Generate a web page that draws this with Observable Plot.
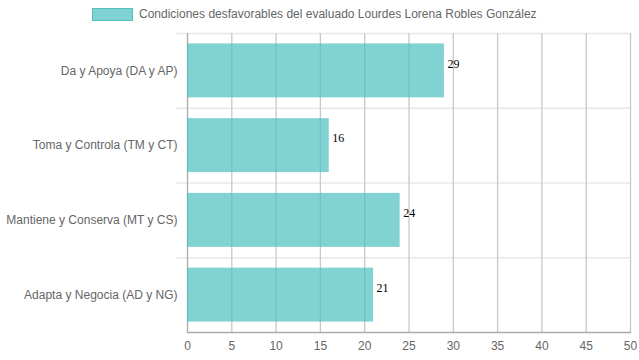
<!DOCTYPE html>
<html>
<head>
<meta charset="utf-8">
<script src="https://cdn.jsdelivr.net/npm/d3@7"></script>
<script src="https://cdn.jsdelivr.net/npm/@observablehq/plot@0.6"></script>
<style>
  body { margin: 0; background: #fff; }
  #wrap { position: relative; width: 639px; height: 360px; }
  #legend { position: absolute; top: 7px; left: 92px; display: flex; align-items: center;
    font: 12px "Liberation Sans", Arial, sans-serif; color: #666; white-space: nowrap; }
  #legend .box { width: 39px; height: 11px; background: rgba(75,192,192,0.7); border: 1px solid rgba(75,192,192,0.9); margin-right: 6px; }
  svg { display: block; }
</style>
</head>
<body>
<div id="wrap">
  <div id="legend"><span class="box"></span><span id="legendText"></span></div>
</div>
<script>
const seriesName = "Condiciones desfavorables del evaluado Lourdes Lorena Robles González";
const categories = ["Da y Apoya (DA y AP)", "Toma y Controla (TM y CT)", "Mantiene y Conserva (MT y CS)", "Adapta y Negocia (AD y NG)"];
const values = [29, 16, 24, 21];
const xTicks = [0, 5, 10, 15, 20, 25, 30, 35, 40, 45, 50];

document.getElementById("legendText").textContent = seriesName;

const data = categories.map((c, i) => ({category: c, value: values[i]}));
const step = (360 - 33 - 28) / categories.length;

const chart = Plot.plot({
  width: 639,
  height: 360,
  marginTop: 33,
  marginBottom: 28,
  marginLeft: 187,
  marginRight: 9,
  style: {fontFamily: "'Liberation Sans', Arial, sans-serif", fontSize: "12px", color: "#666", background: "white"},
  x: {domain: [0, 50], ticks: xTicks, label: null},
  y: {domain: categories, padding: 0, round: false, label: null},
  marks: [
    Plot.ruleY(categories, {y: d => d, dy: -step / 2, x1: -1.25, x2: 50, stroke: "#e8e8e8", strokeWidth: 1.5, clip: false}),
    Plot.ruleX(xTicks, {x: d => d, stroke: d => d === 0 ? "#aaa" : "#c8c8c8", strokeWidth: 1.3}),
    Plot.frame({anchor: "bottom", stroke: "#aaa", strokeWidth: 1.3}),
    Plot.barX(data, {y: "category", x: "value", fill: "rgb(75,192,192)", fillOpacity: 0.7, insetTop: 10.4, insetBottom: 10.4}),
    Plot.text(data, {y: "category", x: "value", text: d => String(d.value), textAnchor: "start", dx: 3, dy: -7, fill: "#000", fontFamily: "'Liberation Serif', 'Times New Roman', serif", fontSize: 12}),
    Plot.axisX({ticks: xTicks, tickSize: 0, tickPadding: 9, fill: "#666", fontSize: 12}),
    Plot.axisY({tickSize: 0, tickPadding: 10, fill: "#666", fontSize: 12})
  ]
});
document.getElementById("wrap").prepend(chart);
</script>
</body>
</html>
